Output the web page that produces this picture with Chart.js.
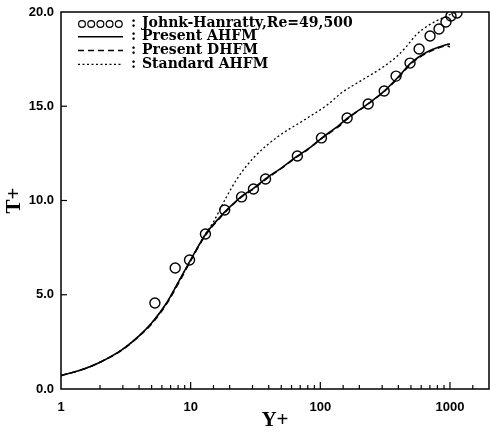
<!DOCTYPE html>
<html>
<head>
<meta charset="utf-8">
<script src="https://cdn.jsdelivr.net/npm/chart.js@4/dist/chart.umd.min.js"></script>
<style>
  html, body { margin: 0; padding: 0; background: #fff; }
  canvas { display: block; }
</style>
</head>
<body>
<canvas id="tplus" width="490" height="433"></canvas>
<script>
// Johnk-Hanratty experiment, Re=49,500
const yPlusExp = [5.3, 7.6, 9.8, 13.0, 18.3, 24.7, 30.5, 37.8, 66.5, 102, 161, 234, 311, 384, 492, 578, 702, 823, 931, 1018, 1132];
const tExp = [4.56, 6.42, 6.84, 8.22, 9.5, 10.19, 10.61, 11.14, 12.36, 13.32, 14.38, 15.12, 15.81, 16.6, 17.29, 18.04, 18.73, 19.1, 19.47, 19.79, 19.95];

// present models (same Y+ grid)
const yPlusModel = [1, 1.5, 2, 3, 4, 5, 6.5, 8.2, 10, 13, 16.7, 20, 25, 30, 38.4, 50, 65, 80, 102, 140, 161, 230, 311, 405, 501, 654, 822, 948, 1000];
const tAhfm = [0.71, 1.06, 1.42, 2.12, 2.82, 3.5, 4.55, 5.78, 6.85, 8.2, 9.1, 9.65, 10.25, 10.6, 11.19, 11.72, 12.31, 12.72, 13.3, 14.0, 14.35, 15.1, 15.8, 16.6, 17.3, 17.85, 18.14, 18.28, 18.3];
const tDhfm = [0.71, 1.06, 1.42, 2.1, 2.8, 3.45, 4.5, 5.7, 6.8, 8.15, 9.05, 9.62, 10.22, 10.58, 11.15, 11.7, 12.28, 12.7, 13.28, 13.95, 14.32, 15.08, 15.78, 16.55, 17.25, 17.8, 18.1, 18.2, 18.15];

// standard AHFM
const yPlusStd = [1, 1.5, 2, 3, 4, 5, 6.5, 8.2, 10, 13, 14.8, 18.9, 23, 31, 46.7, 75, 113, 145, 210, 300, 384, 458, 547, 653, 780, 982, 1100];
const tStd = [0.71, 1.06, 1.42, 2.12, 2.82, 3.5, 4.55, 5.78, 6.85, 8.22, 8.8, 10.19, 11.19, 12.31, 13.37, 14.27, 15.07, 15.7, 16.39, 17.05, 17.61, 18.14, 18.78, 19.2, 19.52, 19.84, 20.0];

const xTickValues = [1, 10, 100, 1000];
const yTickValues = [0, 5, 10, 15, 20];

const pts = (xs, ys) => xs.map((x, i) => ({ x: x, y: ys[i] }));

// inward tick marks + closed frame
const framePlugin = {
  id: 'frame',
  afterDraw(chart) {
    const { ctx, chartArea: a, scales: { x, y } } = chart;
    ctx.save();
    ctx.strokeStyle = '#000';
    ctx.lineWidth = 1.5;
    ctx.strokeRect(a.left, a.top, a.right - a.left, a.bottom - a.top);
    ctx.lineWidth = 1.2;
    x.ticks.forEach(t => {
      const px = x.getPixelForValue(t.value);
      if (px <= a.left + 1 || px >= a.right - 1) return;
      const len = xTickValues.includes(t.value) ? 7 : 4;
      ctx.beginPath();
      ctx.moveTo(px, a.bottom);
      ctx.lineTo(px, a.bottom - len);
      ctx.stroke();
    });
    yTickValues.forEach(v => {
      const py = y.getPixelForValue(v);
      if (py <= a.top + 1 || py >= a.bottom - 1) return;
      ctx.beginPath();
      ctx.moveTo(a.left, py);
      ctx.lineTo(a.left + 6, py);
      ctx.stroke();
    });
    ctx.restore();
  }
};

// legend in the style of the original figure: sample, colon, label
const legendPlugin = {
  id: 'figLegend',
  afterDraw(chart) {
    const { ctx, chartArea: a } = chart;
    const x0 = a.left + 17, x1 = a.left + 62;
    const colonX = a.left + 70, textX = a.left + 81;
    ctx.save();
    ctx.fillStyle = '#000';
    ctx.strokeStyle = '#000';
    ctx.font = 'bold 14px "DejaVu Serif"';
    ctx.textBaseline = 'middle';
    chart.data.datasets.forEach((ds, i) => {
      const yy = a.top + 11 + i * 13.8;
      if (!ds.showLine) {
        ctx.lineWidth = 1.2;
        for (let k = 0; k < 5; k++) {
          ctx.beginPath();
          ctx.arc(x0 + 4 + k * 9.2, yy + 1, 3.4, 0, Math.PI * 2);
          ctx.stroke();
        }
      } else {
        ctx.lineWidth = ds.borderWidth;
        ctx.setLineDash(ds.borderDash || []);
        ctx.beginPath();
        ctx.moveTo(x0, yy);
        ctx.lineTo(x1, yy);
        ctx.stroke();
        ctx.setLineDash([]);
      }
      ctx.fillText(':', colonX, yy);
      ctx.fillText(ds.label, textX, yy);
    });
    ctx.restore();
  }
};

const tickFont = { family: 'Liberation Sans', weight: 'bold', size: 13 };
const titleFont = { family: 'Liberation Serif', weight: 'bold', size: 21 };

new Chart(document.getElementById('tplus'), {
  type: 'scatter',
  data: {
    datasets: [
      {
        label: 'Johnk-Hanratty,Re=49,500',
        data: pts(yPlusExp, tExp),
        showLine: false,
        pointStyle: 'circle',
        pointRadius: 5,
        pointBorderWidth: 1.4,
        borderColor: '#000',
        backgroundColor: 'rgba(0,0,0,0)'
      },
      {
        label: 'Present AHFM',
        data: pts(yPlusModel, tAhfm),
        showLine: true,
        borderColor: '#000',
        borderWidth: 1.6,
        pointRadius: 0,
        cubicInterpolationMode: 'monotone'
      },
      {
        label: 'Present DHFM',
        data: pts(yPlusModel, tDhfm),
        showLine: true,
        borderColor: '#000',
        borderWidth: 1.5,
        borderDash: [6, 4],
        pointRadius: 0,
        cubicInterpolationMode: 'monotone'
      },
      {
        label: 'Standard AHFM',
        data: pts(yPlusStd, tStd),
        showLine: true,
        borderColor: '#000',
        borderWidth: 1.3,
        borderDash: [2, 2.5],
        pointRadius: 0,
        cubicInterpolationMode: 'monotone'
      }
    ]
  },
  options: {
    responsive: false,
    animation: false,
    devicePixelRatio: 1,
    layout: { autoPadding: false, padding: { top: 12, right: 1, left: 0, bottom: 0 } },
    plugins: {
      legend: { display: false },
      tooltip: { enabled: false }
    },
    scales: {
      x: {
        type: 'logarithmic',
        min: 1,
        max: 2000,
        border: { display: false },
        grid: { display: false, drawTicks: false },
        ticks: {
          autoSkip: false,
          maxRotation: 0,
          padding: 11,
          color: '#000',
          font: tickFont,
          callback: v => xTickValues.includes(v) ? String(v) : ''
        },
        title: { display: true, text: 'Y+', color: '#000', font: titleFont, padding: 0 },
        afterFit: s => { s.height = 44; s.paddingLeft = 0; s.paddingRight = 0; }
      },
      y: {
        min: 0,
        max: 20,
        border: { display: false },
        grid: { display: false, drawTicks: false },
        ticks: {
          stepSize: 5,
          padding: 7,
          color: '#000',
          font: tickFont,
          callback: v => v.toFixed(1)
        },
        title: { display: true, text: 'T+', color: '#000', font: titleFont, padding: 2 },
        afterFit: s => { s.width = 61; s.paddingTop = 0; s.paddingBottom = 0; }
      }
    }
  },
  plugins: [framePlugin, legendPlugin]
});
</script>
</body>
</html>
